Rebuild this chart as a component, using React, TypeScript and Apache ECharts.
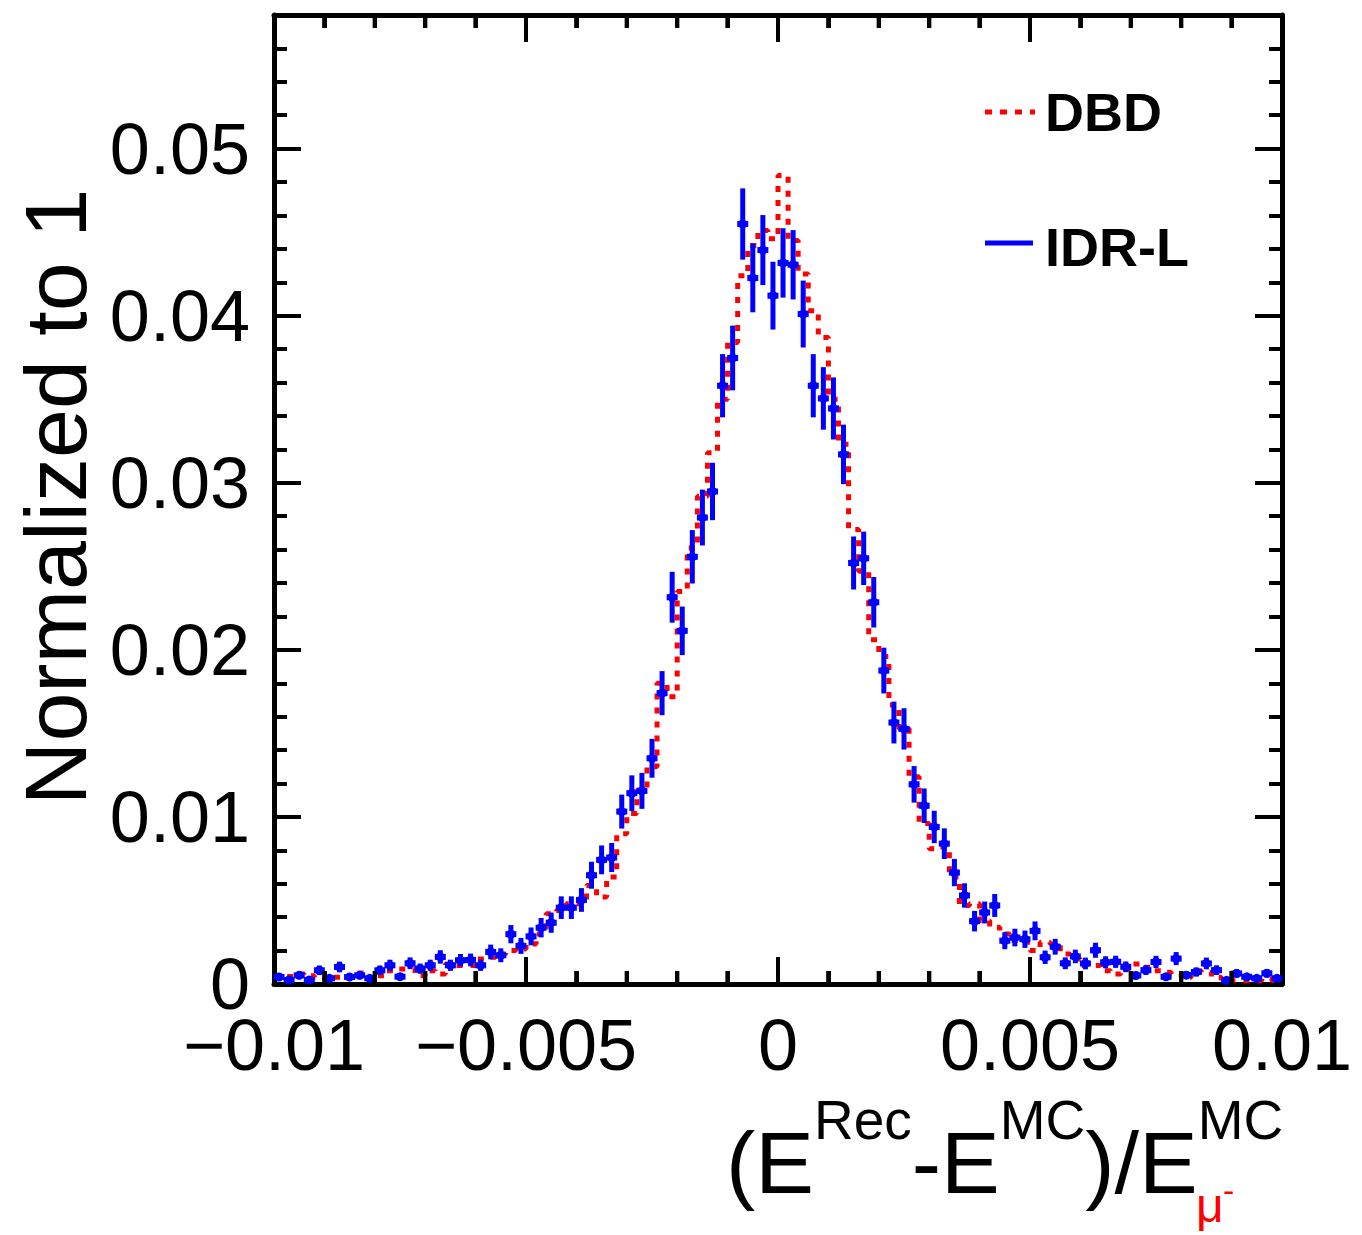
import React, { useEffect, useRef } from "react";
import * as echarts from "echarts";

// ---- axis / binning ----
const X_MIN = -0.01;
const X_MAX = 0.01;
const N_BINS = 100;
const Y_MIN = 0;
const Y_MAX = 0.058;
const X_MAJOR_STEP = 0.005;
const X_MINOR_STEP = 0.001;
const Y_MAJOR_STEP = 0.01;
const xTickValues = [-0.01, -0.005, 0, 0.005, 0.01];
const yTickValues = [0, 0.01, 0.02, 0.03, 0.04, 0.05];

// ---- DBD (red dotted histogram), per bin, normalized to 1 ----
const dbdValues = [
  0.0004, 0.00045, 0.0006, 0.0005, 0.0004, 0.0003, 0.0004, 0.0004, 0.00066, 0.00035,
  0.0005, 0.0008, 0.0009, 0.0009, 0.0005, 0.0008, 0.0006, 0.0012, 0.0011, 0.0011,
  0.0015, 0.0016, 0.0018, 0.002, 0.0021, 0.0024, 0.003, 0.0042, 0.0044, 0.0048,
  0.0048, 0.0059, 0.0052, 0.0064, 0.009, 0.0102, 0.0116, 0.013, 0.018, 0.0172,
  0.0235, 0.0261, 0.0292, 0.0318, 0.035, 0.0384, 0.0424, 0.0442, 0.0451, 0.0446,
  0.0484, 0.0445, 0.0425, 0.0403, 0.0387, 0.035, 0.0323, 0.0272, 0.0247, 0.0206,
  0.0196, 0.0167, 0.0153, 0.0124, 0.0096, 0.0081, 0.0082, 0.0064, 0.0047, 0.0048,
  0.0038, 0.0034, 0.003, 0.0026, 0.0025, 0.002, 0.0025, 0.0024, 0.0018, 0.0015,
  0.0011, 0.0011, 0.0008, 0.0006, 0.0009, 0.0012, 0.001, 0.0008, 0.0007, 0.0006,
  0.0004, 0.0008, 0.0007, 0.0004, 0.0002, 0.0002, 0.0002, 0.0002, 0.0003, 0.0002,
];

// ---- IDR-L (blue points with statistical error bars), per bin ----
const idrValues = [
  0.00042, 0.00024, 0.00052, 0.00024, 0.00082, 0.00034, 0.00102, 0.00042, 0.00052, 0.00034,
  0.00082, 0.00112, 0.00044, 0.00124, 0.00092, 0.00112, 0.00162, 0.00112, 0.00142, 0.00144,
  0.00112, 0.00192, 0.00172, 0.00298, 0.00228, 0.00285, 0.00337, 0.00367, 0.00457, 0.00457,
  0.00503, 0.00651, 0.00743, 0.00757, 0.01032, 0.01142, 0.01156, 0.01351, 0.01741, 0.02315,
  0.02114, 0.02557, 0.02792, 0.02948, 0.03581, 0.03747, 0.04549, 0.04226, 0.04393, 0.0412,
  0.04316, 0.04305, 0.0401, 0.03581, 0.03505, 0.03445, 0.0317, 0.0252, 0.02548, 0.02285,
  0.01876, 0.01565, 0.01527, 0.01195, 0.01067, 0.0094, 0.0084, 0.00667, 0.0053, 0.00376,
  0.00428, 0.0047, 0.00259, 0.00278, 0.00268, 0.00318, 0.0016, 0.00223, 0.00124, 0.00165,
  0.00123, 0.00202, 0.0013, 0.00133, 0.00103, 0.00051, 0.00083, 0.00132, 0.00043, 0.00152,
  0.00053, 0.00072, 0.00123, 0.00083, 0.00022, 0.00063, 0.00043, 0.00034, 0.00064, 0.00034,
];
// number of events behind the normalized IDR-L histogram (Poisson errors)
const N_EVENTS = 10000;

const FONT = "'Liberation Sans', Arial, Helvetica, sans-serif";

function fmtX(v: number): string {
  const hit = xTickValues.find((t) => Math.abs(t - v) < 1e-9);
  if (hit === undefined) return "";
  if (hit === 0) return "0";
  return String(+hit.toFixed(4)).replace("-", "\u2212");
}
function fmtY(v: number): string {
  const hit = yTickValues.find((t) => Math.abs(t - v) < 1e-9);
  if (hit === undefined) return "";
  return hit === 0 ? "0" : String(+hit.toFixed(2));
}

function makeAxis(dim: "x" | "y", position: string, label: any) {
  return {
    type: "value",
    position,
    min: dim === "x" ? X_MIN : Y_MIN,
    max: dim === "x" ? X_MAX : Y_MAX,
    interval: dim === "x" ? X_MAJOR_STEP : Y_MAJOR_STEP,
    axisLine: { show: true, onZero: false, lineStyle: { color: "#000", width: 5 } },
    axisTick: { show: true, inside: true, length: 27, lineStyle: { color: "#000", width: 4 } },
    minorTick: { show: true, splitNumber: 5, length: 13, lineStyle: { color: "#000", width: 4 } },
    axisLabel: label,
    splitLine: { show: false },
    minorSplitLine: { show: false },
  };
}

export default function App() {
  const ref = useRef<HTMLDivElement>(null);
  useEffect(() => {
    document.body.style.margin = "0";
    if (!ref.current) return;
    const chart = echarts.init(ref.current, null, { renderer: "svg" });

    const binW = (X_MAX - X_MIN) / N_BINS;
    const stepData: number[][] = [];
    for (let k = 0; k <= N_BINS; k++) {
      stepData.push([X_MIN + k * binW, dbdValues[Math.min(k, N_BINS - 1)]]);
    }
    const pointData = idrValues.map((v, i) => [
      X_MIN + (i + 0.5) * binW,
      v,
      Math.sqrt(v / N_EVENTS),
    ]);

    // x tick positions (value, length px) for the bottom and top frame
    const xTickData: number[][] = [];
    const nMinor = Math.round((X_MAX - X_MIN) / X_MINOR_STEP);
    const perMajor = Math.round(X_MAJOR_STEP / X_MINOR_STEP);
    for (let k = 1; k < nMinor; k++) {
      xTickData.push([X_MIN + k * X_MINOR_STEP, Y_MIN, k % perMajor === 0 ? 27 : 13]);
    }

    const xLabel = {
      show: true,
      margin: 33,
      fontSize: 72,
      lineHeight: 56,
      fontFamily: FONT,
      color: "#000",
      formatter: fmtX,
    };
    const yLabel = {
      show: true,
      margin: 24,
      fontSize: 72,
      lineHeight: 56,
      fontFamily: FONT,
      color: "#000",
      formatter: fmtY,
      showMaxLabel: false,
    };
    const noLabel = { show: false };

    const baseGraphic: any[] = [
      // legend
      {
        type: "line",
        shape: { x1: 985, y1: 112, x2: 1035, y2: 112 },
        style: { stroke: "#ff0000", lineWidth: 5, lineDash: [7, 8] },
      },
      {
        type: "text",
        x: 1045,
        y: 112,
        style: { text: "DBD", font: `bold 54px ${FONT}`, fill: "#000", textAlign: "left", textVerticalAlign: "middle" },
      },
      {
        type: "line",
        shape: { x1: 985, y1: 243, x2: 1033, y2: 243 },
        style: { stroke: "#0000ff", lineWidth: 5 },
      },
      {
        type: "text",
        x: 1045,
        y: 247,
        style: { text: "IDR-L", font: `bold 54px ${FONT}`, fill: "#000", textAlign: "left", textVerticalAlign: "middle" },
      },
      // y-axis title
      {
        type: "text",
        x: 55,
        y: 497,
        rotation: Math.PI / 2,
        style: { text: "Normalized to 1", font: `88px ${FONT}`, fill: "#000", textAlign: "center", textVerticalAlign: "middle" },
      },
      // x-axis title pieces
      { type: "text", x: 726, y: 1162, style: { text: "(E", font: `88px ${FONT}`, fill: "#000", textAlign: "left", textVerticalAlign: "middle" } },
      { type: "text", x: 814, y: 1120, style: { text: "Rec", font: `55px ${FONT}`, fill: "#000", textAlign: "left", textVerticalAlign: "middle" } },
      { type: "text", x: 911.8, y: 1162, style: { text: "-E", font: `88px ${FONT}`, fill: "#000", textAlign: "left", textVerticalAlign: "middle" } },
      { type: "text", x: 999.8, y: 1120, style: { text: "MC", font: `55px ${FONT}`, fill: "#000", textAlign: "left", textVerticalAlign: "middle" } },
      { type: "text", x: 1085.3, y: 1162, style: { text: ")/E", font: `88px ${FONT}`, fill: "#000", textAlign: "left", textVerticalAlign: "middle" } },
      { type: "text", x: 1197.8, y: 1120, style: { text: "MC", font: `55px ${FONT}`, fill: "#000", textAlign: "left", textVerticalAlign: "middle" } },
      { type: "text", x: 1196, y: 1205, style: { text: "\u03bc", font: `48px ${FONT}`, fill: "#ff0000", textAlign: "left", textVerticalAlign: "middle" } },
      { type: "text", x: 1223, y: 1190, style: { text: "-", font: `34px ${FONT}`, fill: "#ff0000", textAlign: "left", textVerticalAlign: "middle" } },
    ];

    const option: any = {
      animation: false,
      grid: { left: 274, top: 15, right: 80, bottom: 251 },
      xAxis: [makeAxis("x", "bottom", xLabel), makeAxis("x", "top", noLabel)],
      yAxis: [makeAxis("y", "left", yLabel), makeAxis("y", "right", noLabel)],
      series: [
        {
          name: "DBD",
          type: "line",
          step: "end",
          xAxisIndex: 0,
          yAxisIndex: 0,
          data: stepData,
          symbol: "none",
          clip: true,
          lineStyle: { color: "#ff0000", width: 5, type: [6, 8] },
          z: 2,
        },
        {
          name: "IDR-L",
          type: "custom",
          xAxisIndex: 0,
          yAxisIndex: 0,
          data: pointData,
          encode: { x: 0, y: 1 },
          z: 3,
          renderItem: (_params: any, api: any) => {
            const x = api.value(0);
            const v = api.value(1);
            const e = api.value(2);
            const c = api.coord([x, v]);
            const hi = api.coord([x, v + e]);
            const lo = api.coord([x, v - e]);
            return {
              type: "group",
              children: [
                {
                  type: "line",
                  shape: { x1: c[0], y1: hi[1], x2: c[0], y2: lo[1] },
                  style: { stroke: "#0000ff", lineWidth: 5 },
                },
                {
                  type: "rect",
                  shape: { x: c[0] - 5.5, y: c[1] - 3, width: 11, height: 6 },
                  style: { fill: "#0000ff" },
                },
                {
                  type: "circle",
                  shape: { cx: c[0], cy: c[1], r: 4.5 },
                  style: { fill: "#0000ff" },
                },
              ],
            };
          },
        },
        {
          name: "frame ticks",
          type: "custom",
          xAxisIndex: 0,
          yAxisIndex: 0,
          data: xTickData,
          encode: { x: 0, y: 1 },
          silent: true,
          z: 6,
          renderItem: (_params: any, api: any) => {
            const v = api.value(0);
            const len = api.value(2);
            const b = api.coord([v, Y_MIN]);
            const t = api.coord([v, Y_MAX]);
            return {
              type: "group",
              children: [
                { type: "rect", shape: { x: b[0] - 2, y: b[1] - len, width: 4, height: len }, style: { fill: "#000" } },
                { type: "rect", shape: { x: t[0] - 2, y: t[1], width: 4, height: len }, style: { fill: "#000" } },
              ],
            };
          },
        },
      ],
      graphic: baseGraphic,
    };

    chart.setOption(option);

    // extra safety: the same frame ticks as graphic rects, placed through the chart's x/y scales
    try {
      const tickGraphic: any[] = [];
      for (const [v, , len] of xTickData) {
        const b = chart.convertToPixel({ xAxisIndex: 0, yAxisIndex: 0 } as any, [v, Y_MIN]) as number[];
        const t = chart.convertToPixel({ xAxisIndex: 0, yAxisIndex: 0 } as any, [v, Y_MAX]) as number[];
        if (!b || !t || !isFinite(b[0]) || !isFinite(b[1]) || !isFinite(t[1])) continue;
        tickGraphic.push({ type: "rect", z: 100, silent: true, shape: { x: b[0] - 2, y: b[1] - len, width: 4, height: len }, style: { fill: "#000" } });
        tickGraphic.push({ type: "rect", z: 100, silent: true, shape: { x: t[0] - 2, y: t[1], width: 4, height: len }, style: { fill: "#000" } });
      }
      if (tickGraphic.length) chart.setOption({ graphic: baseGraphic.concat(tickGraphic) });
    } catch (e) {
      // keep the chart as drawn
    }

    return () => chart.dispose();
  }, []);

  return <div ref={ref} style={{ width: 1362, height: 1235 }} />;
}
